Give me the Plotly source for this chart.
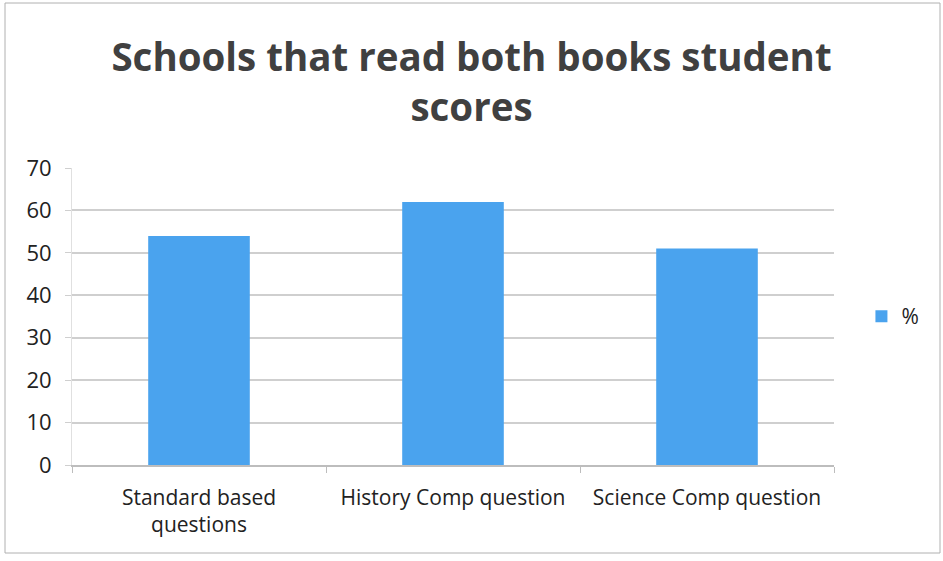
import plotly.graph_objects as go

categories = ["Standard based<br>questions", "History Comp question", "Science Comp question"]
percent_values = [54, 62, 51]
y_ticks = [0, 10, 20, 30, 40, 50, 60, 70]

BAR_COLOR = "#4aa3ee"
GRID_COLOR = "#cfcfcf"
FONT = "Open Sans"

fig = go.Figure(go.Bar(
    name="%",
    x=categories,
    y=percent_values,
    marker=dict(color=BAR_COLOR, line=dict(width=0)),
    width=0.4,
    showlegend=True,
))

fig.update_layout(
    width=943,
    height=561,
    autosize=False,
    paper_bgcolor="white",
    plot_bgcolor="white",
    margin=dict(l=72, r=109, t=168, b=96, autoexpand=False),
    title=dict(
        text="<b>Schools that read both books student<br>scores</b>",
        x=0.5, xanchor="center", xref="container",
        y=0.873, yanchor="top", yref="container",
        font=dict(family=FONT, size=38.5, color="#404040"),
    ),
    legend=dict(
        x=1.036, y=0.5, xanchor="left", yanchor="middle",
        font=dict(family=FONT, size=21, color="#222222"),
        itemwidth=30,
    ),
    font=dict(family=FONT, size=21, color="#222222"),
    bargap=0.6,
)

fig.update_yaxes(
    range=[0, 70],
    tickvals=y_ticks,
    automargin=False,
    showgrid=True, gridcolor=GRID_COLOR, gridwidth=1.5,
    showline=True, linecolor="#e0e0e0", linewidth=1,
    ticks="outside", ticklen=6, tickcolor=GRID_COLOR,
    ticklabelstandoff=9,
    zeroline=False,
    tickfont=dict(family=FONT, size=22, color="#222222"),
)

fig.update_xaxes(
    automargin=False,
    showline=True, linecolor="#bdbdbd", linewidth=1.5,
    ticks="outside", tickson="boundaries", ticklen=6, tickcolor="#bdbdbd",
    ticklabelstandoff=13,
    tickfont=dict(family=FONT, size=21, color="#222222"),
)

# thin frame around the whole chart (paper area is 762 x 297 px)
fig.add_shape(type="rect", xref="paper", yref="paper",
              x0=(5 - 72) / 762, x1=(940 - 72) / 762,
              y0=(465 - 553) / 297, y1=(465 - 3) / 297,
              line=dict(color="#b0b0b0", width=1))

# drop the default page margin so the figure sits at the window's corner
fig.write_html("out.html", config={"displayModeBar": False},
               post_script="document.body.style.margin='0';")
